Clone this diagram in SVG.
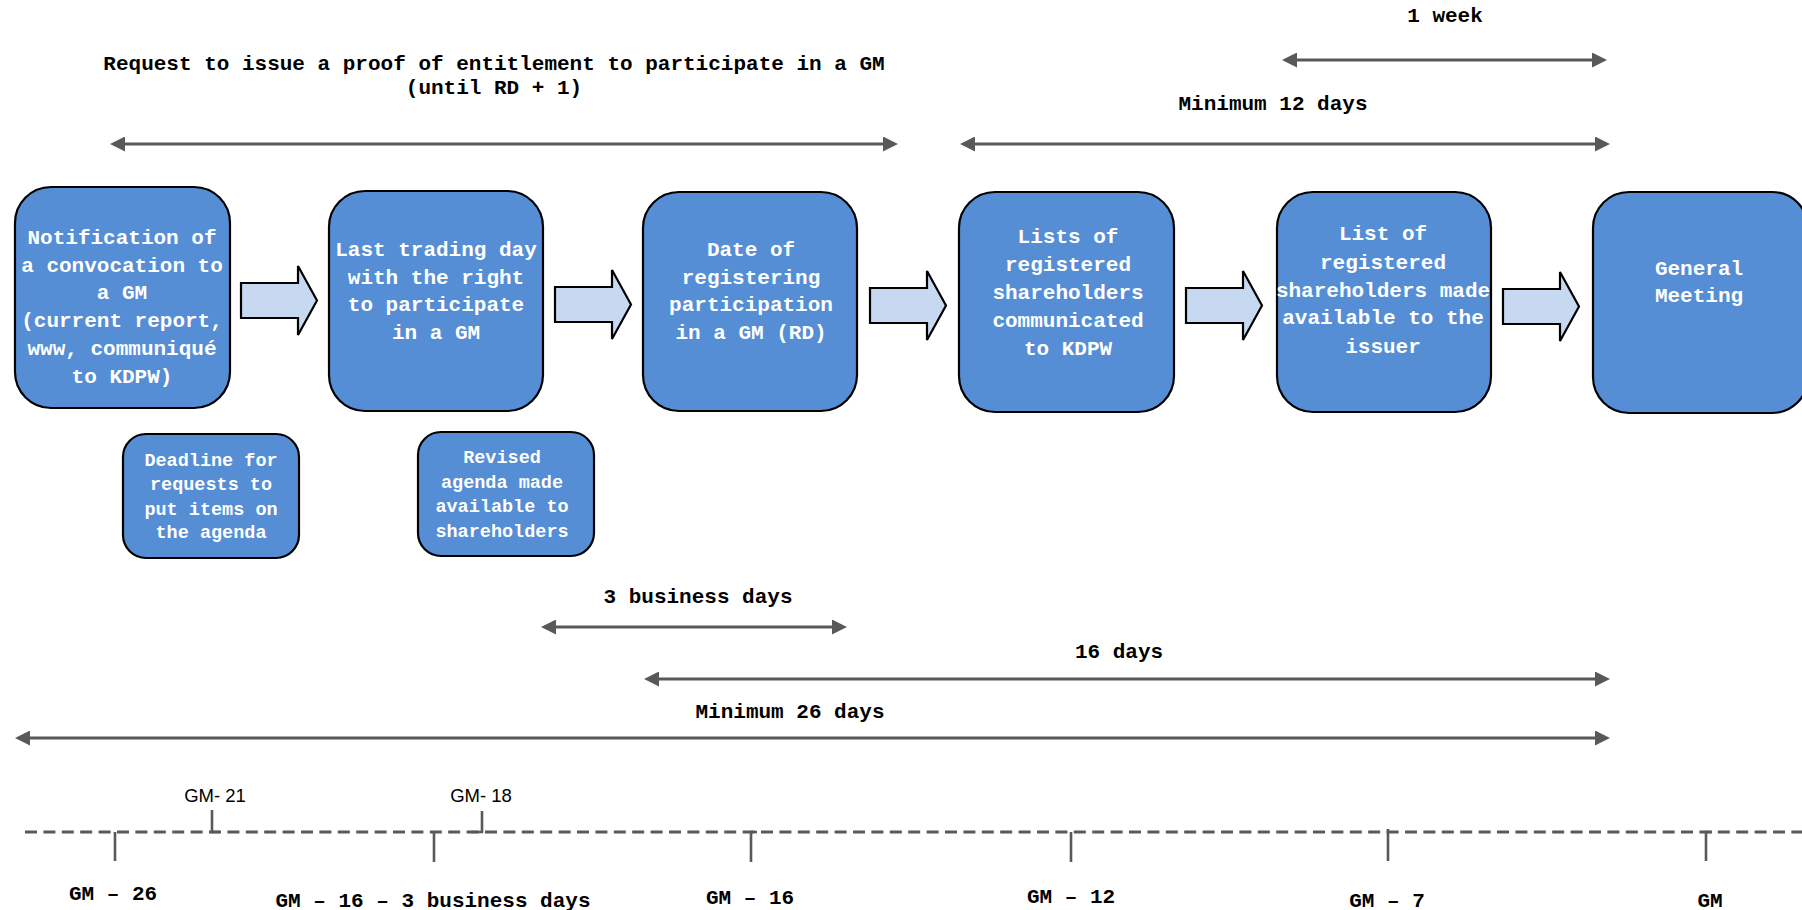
<svg xmlns="http://www.w3.org/2000/svg" width="1802" height="910" viewBox="0 0 1802 910">
<defs>
<style>
.box{fill:#558ED5;stroke:#000;stroke-width:2.2}
.bt{font-family:"Liberation Mono","Courier New",monospace;font-weight:bold;font-size:21px;fill:#fff;text-anchor:middle}
.st{font-family:"Liberation Mono","Courier New",monospace;font-weight:bold;font-size:18.5px;fill:#fff;text-anchor:middle}
.lbl{font-family:"Liberation Mono","Courier New",monospace;font-weight:bold;font-size:21px;fill:#000;text-anchor:middle}
.tl{font-family:"Liberation Sans",Arial,sans-serif;font-size:18.5px;fill:#000;text-anchor:middle}
.blk{fill:#C6D9F1;stroke:#000;stroke-width:2.2;stroke-linejoin:miter}
.dim{stroke:#595959;stroke-width:3.2;fill:none;marker-start:url(#ah);marker-end:url(#ah)}
.tick{stroke:#595959;stroke-width:2.6;fill:none}
.dash{stroke:#595959;stroke-width:3.2;stroke-dasharray:12 6.4;fill:none}
</style>
<marker id="ah" viewBox="0 0 15 15" refX="5" refY="7.5" markerWidth="15" markerHeight="15" markerUnits="userSpaceOnUse" orient="auto-start-reverse">
<path d="M0,0 L15,7.5 L0,15 z" fill="#595959"/>
</marker>
<polygon id="barrow" points="0,0 57,0 57,-17 76,17.5 57,52 57,35 0,35"/>
</defs>

<g id="connectors">
<use href="#barrow" class="blk" x="241" y="283"/>
<use href="#barrow" class="blk" x="555" y="287"/>
<use href="#barrow" class="blk" x="870" y="288"/>
<use href="#barrow" class="blk" x="1186" y="288"/>
<use href="#barrow" class="blk" x="1503" y="289"/>
<line class="dim" x1="120" y1="144" x2="888" y2="144"/>
<line class="dim" x1="1292" y1="60" x2="1597" y2="60"/>
<line class="dim" x1="970" y1="144" x2="1600" y2="144"/>
<line class="dim" x1="551" y1="627" x2="837" y2="627"/>
<line class="dim" x1="654" y1="679" x2="1600" y2="679"/>
<line class="dim" x1="25" y1="738" x2="1600" y2="738"/>
</g>

<g id="dim-labels">
<text class="lbl" x="494" y="70">Request to issue a proof of entitlement to participate in a GM</text>
<text class="lbl" x="494" y="94">(until RD + 1)</text>
<text class="lbl" x="1445" y="22">1 week</text>
<text class="lbl" x="1273" y="110">Minimum 12 days</text>
<text class="lbl" x="698" y="603">3 business days</text>
<text class="lbl" x="1119" y="658">16 days</text>
<text class="lbl" x="790" y="718">Minimum 26 days</text>
</g>

<g id="n1">
<rect class="box" x="15" y="187" width="215" height="221" rx="36"/>
<text class="bt" x="122" y="244">Notification of</text>
<text class="bt" x="122" y="272">a convocation to</text>
<text class="bt" x="122" y="299">a GM</text>
<text class="bt" x="122" y="327">(current report,</text>
<text class="bt" x="122" y="355">www, communiqué</text>
<text class="bt" x="122" y="383">to KDPW)</text>
</g>
<g id="n2">
<rect class="box" x="329" y="191" width="214" height="220" rx="36"/>
<text class="bt" x="436" y="256">Last trading day</text>
<text class="bt" x="436" y="284">with the right</text>
<text class="bt" x="436" y="311">to participate</text>
<text class="bt" x="436" y="339">in a GM</text>
</g>
<g id="n3">
<rect class="box" x="643" y="192" width="214" height="219" rx="36"/>
<text class="bt" x="751" y="256">Date of</text>
<text class="bt" x="751" y="284">registering</text>
<text class="bt" x="751" y="311">participation</text>
<text class="bt" x="751" y="339">in a GM (RD)</text>
</g>
<g id="n4">
<rect class="box" x="959" y="192" width="215" height="220" rx="36"/>
<text class="bt" x="1068" y="243">Lists of</text>
<text class="bt" x="1068" y="271">registered</text>
<text class="bt" x="1068" y="299">shareholders</text>
<text class="bt" x="1068" y="327">communicated</text>
<text class="bt" x="1068" y="355">to KDPW</text>
</g>
<g id="n5">
<rect class="box" x="1277" y="192" width="214" height="220" rx="36"/>
<text class="bt" x="1383" y="240">List of</text>
<text class="bt" x="1383" y="269">registered</text>
<text class="bt" x="1383" y="297">shareholders made</text>
<text class="bt" x="1383" y="324">available to the</text>
<text class="bt" x="1383" y="353">issuer</text>
</g>
<g id="n6">
<rect class="box" x="1593" y="192" width="215" height="221" rx="36"/>
<text class="bt" x="1699" y="275">General</text>
<text class="bt" x="1699" y="302">Meeting</text>
</g>
<g id="n7">
<rect class="box" x="123" y="434" width="176" height="124" rx="23"/>
<text class="st" x="211" y="466">Deadline for</text>
<text class="st" x="211" y="490">requests to</text>
<text class="st" x="211" y="515">put items on</text>
<text class="st" x="211" y="538">the agenda</text>
</g>
<g id="n8">
<rect class="box" x="418" y="432" width="176" height="124" rx="23"/>
<text class="st" x="502" y="463">Revised</text>
<text class="st" x="502" y="488">agenda made</text>
<text class="st" x="502" y="512">available to</text>
<text class="st" x="502" y="537">shareholders</text>
</g>

<g id="timeline">
<line class="dash" x1="25" y1="832" x2="1802" y2="832"/>
<polyline class="tick" points="115,832 115,861"/>
<polyline class="tick" points="212,810 212,832 220,832"/>
<polyline class="tick" points="434,832 434,862"/>
<polyline class="tick" points="471,832 482,832 482,811"/>
<polyline class="tick" points="757,832 751,832 751,862"/>
<polyline class="tick" points="1071,832 1071,862"/>
<polyline class="tick" points="1388,829 1388,861"/>
<polyline class="tick" points="1712,832 1706,832 1706,861"/>
<text class="tl" x="215" y="802">GM- 21</text>
<text class="tl" x="481" y="802">GM- 18</text>
<text class="lbl" x="113" y="900">GM – 26</text>
<text class="lbl" x="433" y="907">GM – 16 – 3 business days</text>
<text class="lbl" x="750" y="904">GM – 16</text>
<text class="lbl" x="1071" y="903">GM – 12</text>
<text class="lbl" x="1387" y="907">GM – 7</text>
<text class="lbl" x="1710" y="907">GM</text>
</g>
</svg>
